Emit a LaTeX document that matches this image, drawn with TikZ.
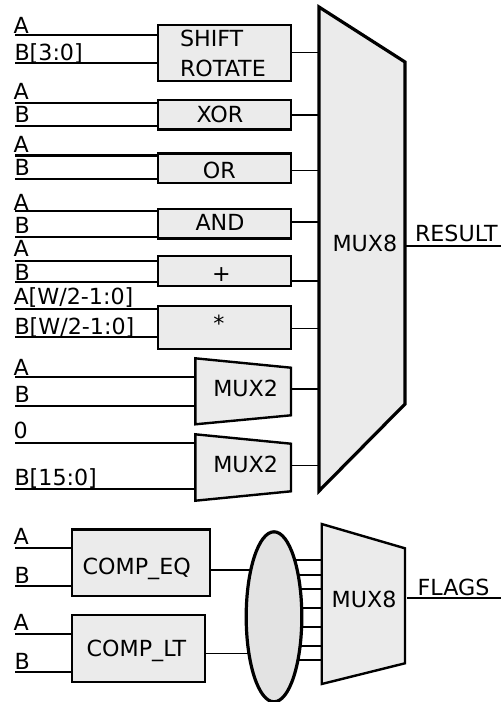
\documentclass[tikz,border=0pt]{standalone}
\usepackage{fontspec}
\setmainfont{DejaVu Sans}
\usetikzlibrary{shapes.geometric,backgrounds}
\definecolor{blockfill}{HTML}{EBEBEB}
\definecolor{ellfill}{HTML}{E3E3E3}
\tikzset{
  x=1pt,y=-1pt,
  txt/.style={anchor=base west,inner sep=0pt,outer sep=0pt,font=\fontsize{22.2pt}{24pt}\selectfont},
  ctxt/.style={anchor=base,inner sep=0pt,outer sep=0pt,font=\fontsize{22.2pt}{24pt}\selectfont},
  blockbox/.style={draw=black,fill=blockfill,line width=2.4pt,inner sep=0pt,outer sep=0pt,rectangle},
  poly/.style={draw=black,fill=blockfill,line width=2.4pt,line join=miter},
  bigpoly/.style={draw=black,fill=blockfill,line width=3.2pt,line join=miter},
  frame/.style={inner sep=0pt,outer sep=0pt,rectangle},
  inwire/.style={line width=2.2pt},
  outwire/.style={line width=1.6pt},
}
\newcommand{\blk}[6]{% name x1 y1 x2 y2
  \node[blockbox,minimum width=#4pt-#2pt,minimum height=#5pt-#3pt] (#1) at ({(#2+#4)/2},{(#3+#5)/2}) {#6};}
\begin{document}
\begin{tikzpicture}
\useasboundingbox (0,0) rectangle (501,702);
% big mux
\node[frame,minimum width=86pt,minimum height=484pt] (mux) at (362,249) {};
\draw[bigpoly] (mux.north west) -- (405,62) -- (405,404) -- (mux.south west) -- cycle;
\node[txt] (muxt) at (332.5,251.7) {MUX8};
% boxes
\blk{shift}{158}{25}{291}{81}{}
\blk{xor}{158}{100}{291}{129.3}{}
\blk{or}{158}{153.3}{291}{183}{}
\blk{and}{158}{208.7}{291}{238.3}{}
\blk{add}{158}{256}{291}{285.7}{}
\blk{mul}{158}{305.7}{291}{348.7}{}
\node[txt] (t1) at (180,46.7) {SHIFT};
\node[txt] (t2) at (180,76) {ROTATE};
\node[ctxt] (t3) at (220,122) {XOR};
\node[ctxt] (t4) at (219.3,178) {OR};
\node[ctxt] (t5) at (220,230.7) {AND};
\node[ctxt] (t6) at (221.5,281.8) {+};
\node[ctxt] (t7) at (219,331.8) {*};
% mux2
\node[frame,minimum width=95.7pt,minimum height=66pt] (ma) at (243.15,391.3) {};
\draw[poly] (ma.north west) -- (291,367.7) -- (291,415.3) -- (ma.south west) -- cycle;
\node[txt] (t8) at (213.3,396.7) {MUX2};
\node[frame,minimum width=95.7pt,minimum height=66.4pt] (mb) at (243.15,467.5) {};
\draw[poly] (mb.north west) -- (291,443.7) -- (291,491.3) -- (mb.south west) -- cycle;
\node[txt] (t9) at (213.3,472.7) {MUX2};
% input labels and free ends
\foreach \n/\ya/\yb/\la/\lb/\ba/\bb in {
  shift/34.7/63.3/A/{B[3:0]}/33/60,
  xor/103.3/126/A/B/99.3/122,
  or/155.5/179.3/A/B/152.3/175,
  and/211.3/236.7/A/B/210/233.3,
  add/261/282.3/A/B/256/280,
  mul/309/337.3/{A[W/2-1:0]}/{B[W/2-1:0]}/304.3/334,
  ma/377/405.7/A/B/375/402.7,
  mb/443.3/489.3/0/{B[15:0]}/438.7/485.3}{
  \coordinate (\n-a) at (15,\ya);
  \coordinate (\n-b) at (15,\yb);
  \node[txt] (\n-la) at (13.5,\ba) {\la};
  \node[txt] (\n-lb) at (14.5,\bb) {\lb};
  \draw[inwire] (\n-a) -- (\n-a -| \n.west);
  \draw[inwire] (\n-b) -- (\n-b -| \n.west);
}
% outputs to big mux
\foreach \n/\y in {shift/52.3,xor/115,or/170.3,and/221.7,add/280.7,mul/328.3,ma/389,mb/465.3}{
  \coordinate (\n-o) at (291,\y);
  \draw[outwire] (\n-o) -- (\n-o -| mux.west);
}
\coordinate (res) at (501,246.3);
\draw[inwire] (mux.east |- res) -- (res);
\node[txt] (tres) at (415,241.7) {RESULT};
% bottom
\blk{eq}{71.7}{529.3}{209.7}{596}{}
\blk{lt}{71.7}{615}{205}{681.7}{}
\node[txt] (t10) at (82.7,574) {COMP\_EQ};
\node[txt] (t11) at (86.7,656.7) {COMP\_LT};
\foreach \n/\ya/\yb/\ba/\bb in {eq/548.3/586.3/544.3/583.3,lt/634/672/630.7/669.3}{
  \coordinate (\n-a) at (15,\ya);
  \coordinate (\n-b) at (15,\yb);
  \node[txt] (\n-la) at (13.5,\ba) {A};
  \node[txt] (\n-lb) at (14.5,\bb) {B};
  \draw[inwire] (\n-a) -- (\n-a -| \n.west);
  \draw[inwire] (\n-b) -- (\n-b -| \n.west);
}
\node[ellipse,draw=black,fill=ellfill,line width=3.2pt,inner sep=0pt,outer sep=0pt,minimum width=55.6pt,minimum height=170pt] (ell) at (274,616.8) {};
\node[frame,minimum width=83.3pt,minimum height=160pt] (mf) at (363.35,604) {};
\draw[poly] (mf.north west) -- (405,548.3) -- (405,663.3) -- (mf.south west) -- cycle;
\node[txt] (t12) at (331.7,607.3) {MUX8};
\begin{scope}[on background layer]
  \foreach \i/\y in {1/560,2/575,3/589,4/608,5/626.7,6/646,7/660}{
    \coordinate (w\i) at (274,\y);
    \draw[inwire] (w\i) -- (w\i -| mf.west);
  }
  \coordinate (eq-o) at (210,570);
  \coordinate (lt-o) at (205,653.3);
  \draw[outwire] (eq-o) -- (eq-o -| ell.center);
  \draw[outwire] (lt-o) -- (lt-o -| ell.center);
\end{scope}
\coordinate (flg) at (501,598.3);
\draw[inwire] (407.3,598.3) -- (flg);
\node[txt] (tflg) at (417.7,595.7) {FLAGS};
\end{tikzpicture}
\end{document}
